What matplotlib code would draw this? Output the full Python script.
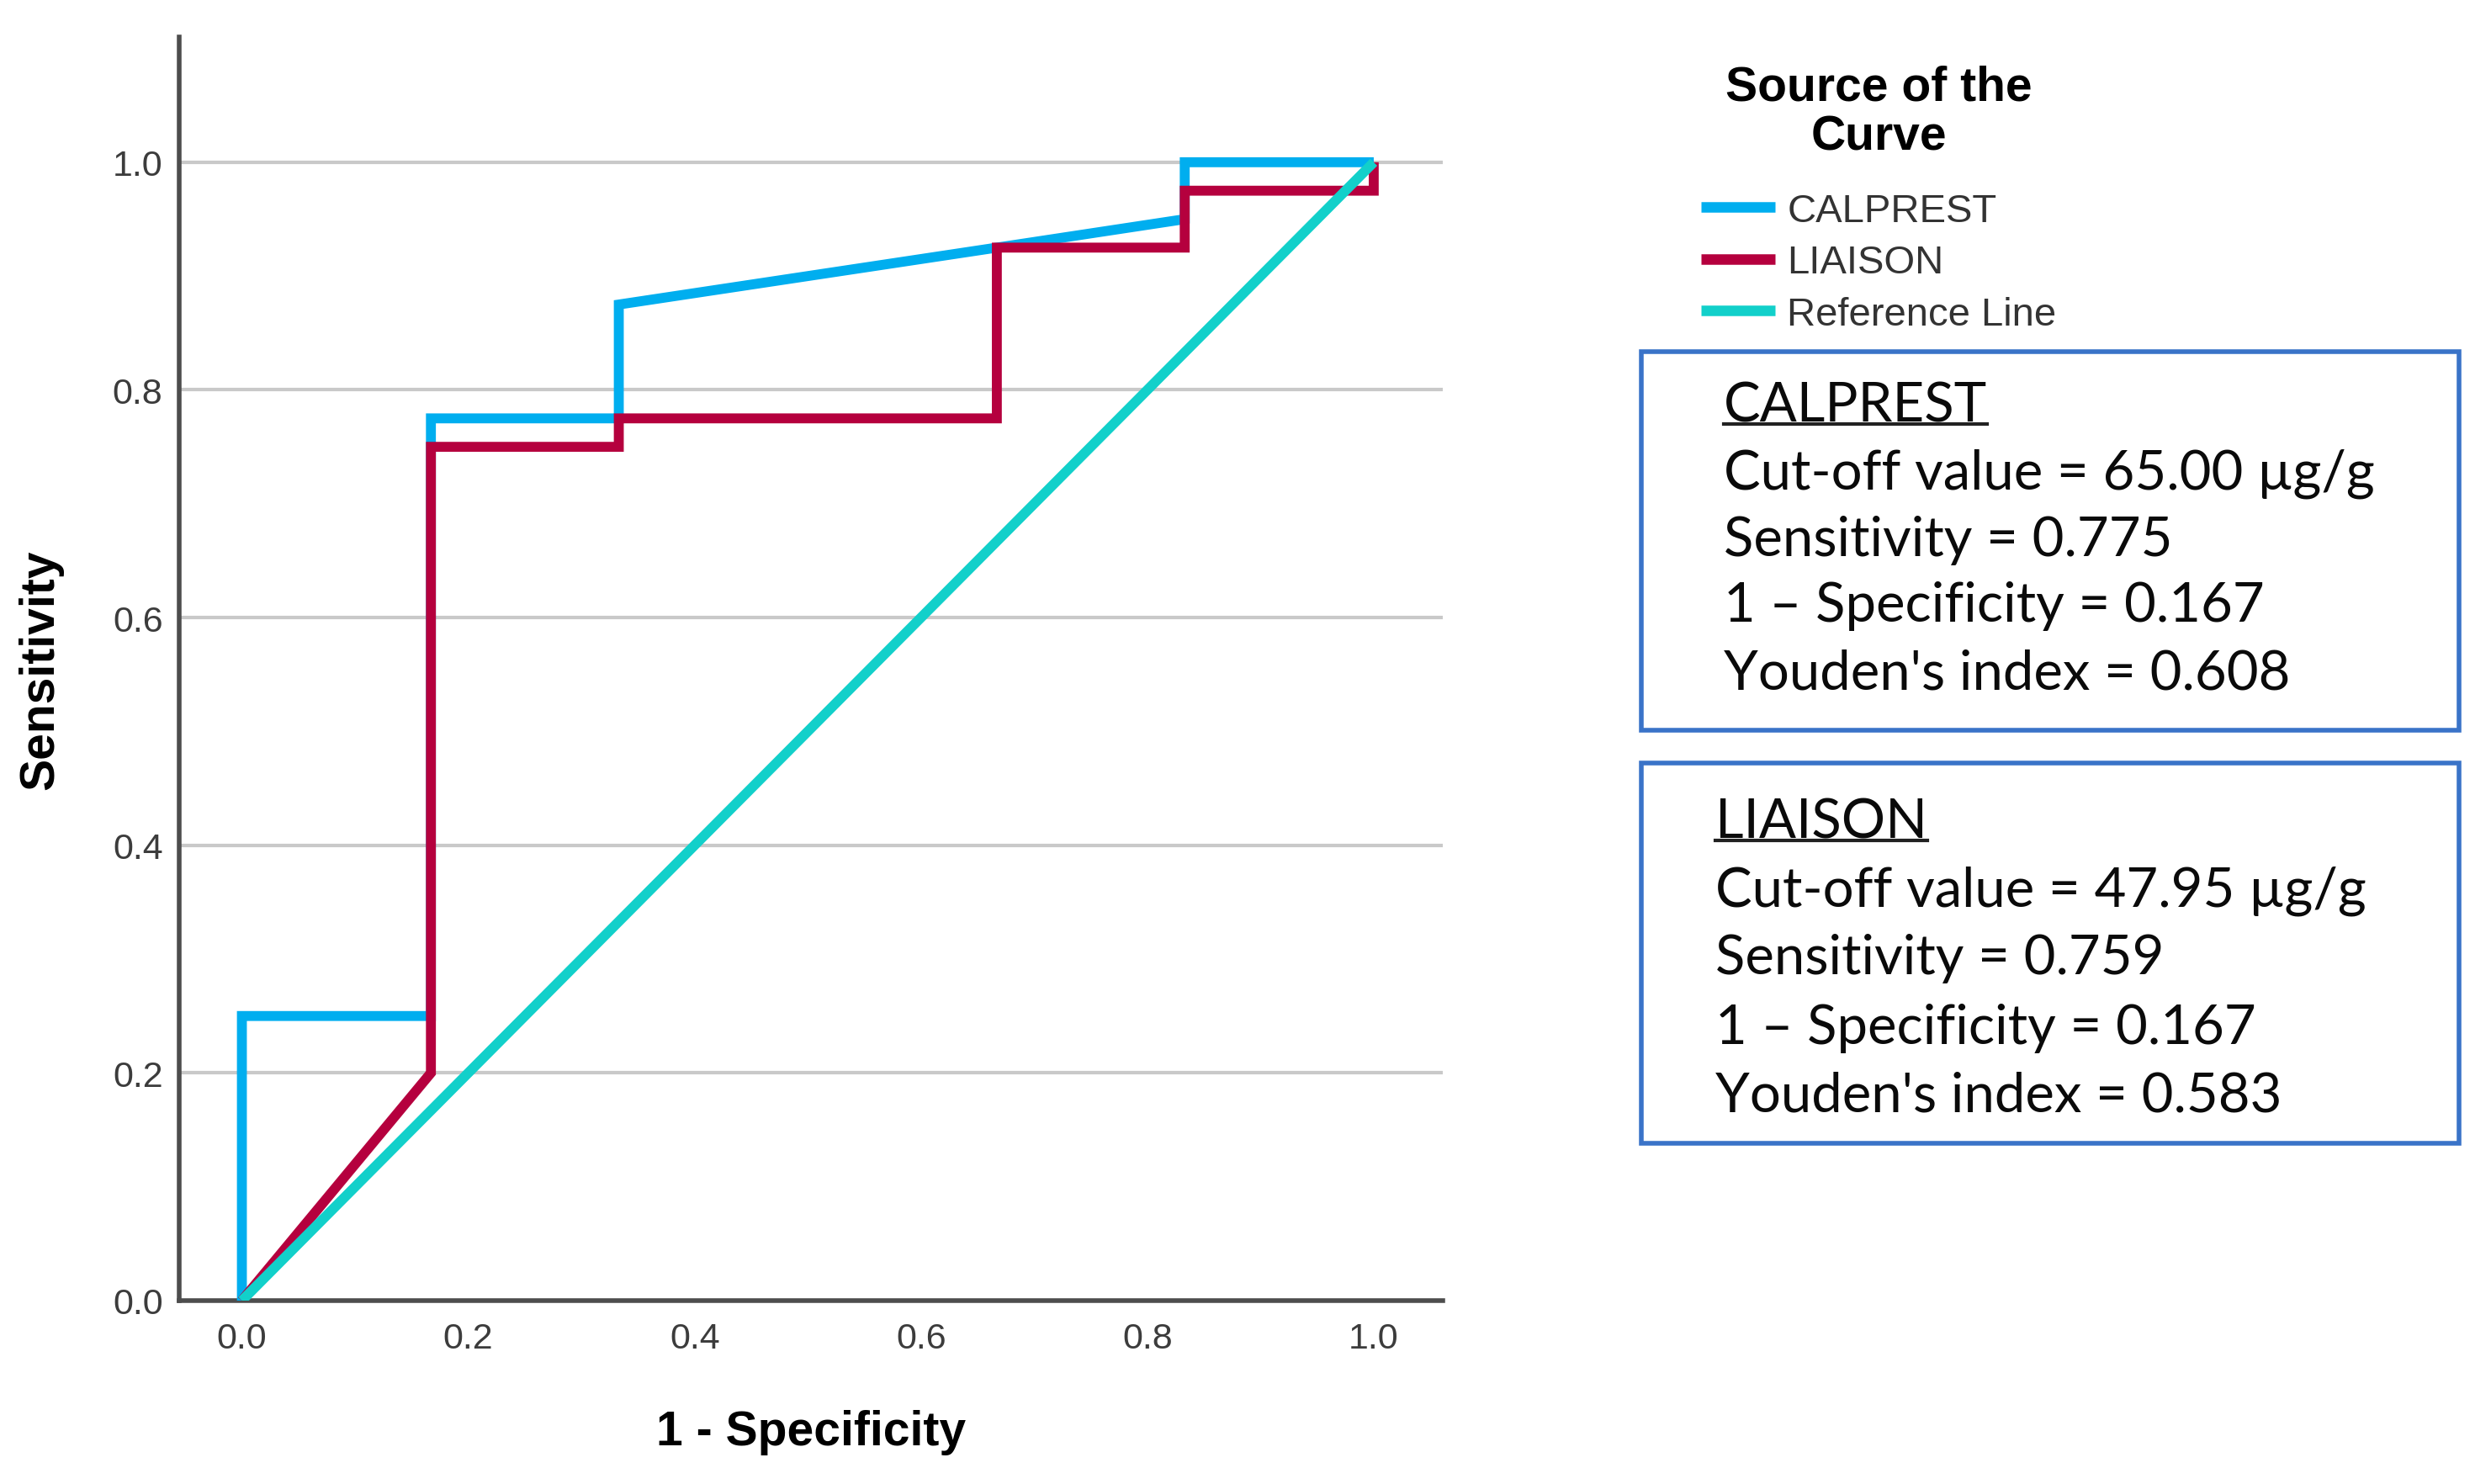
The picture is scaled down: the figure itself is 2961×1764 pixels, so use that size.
import matplotlib
matplotlib.use("Agg")
import matplotlib.pyplot as plt
from matplotlib.lines import Line2D
from matplotlib.patches import Rectangle

# ---------------- data ----------------
fpr_calprest = [0.0, 0.0, 0.167, 0.167, 0.333, 0.333, 0.667, 0.833, 0.833, 1.0]
tpr_calprest = [0.0, 0.25, 0.25, 0.775, 0.775, 0.875, 0.925, 0.95, 1.0, 1.0]
fpr_liaison = [0.0, 0.167, 0.167, 0.333, 0.333, 0.667, 0.667, 0.833, 0.833, 1.0, 1.0]
tpr_liaison = [0.0, 0.2, 0.75, 0.75, 0.775, 0.775, 0.925, 0.925, 0.975, 0.975, 1.0]
ref_x = [0.0, 1.0]
ref_y = [0.0, 1.0]
series_labels = ["CALPREST", "LIAISON", "Reference Line"]
ticks = [0.0, 0.2, 0.4, 0.6, 0.8, 1.0]
tick_labels = ["0.0", "0.2", "0.4", "0.6", "0.8", "1.0"]
box1_lines = ["CALPREST", "Cut-off value = 65.00 µg/g", "Sensitivity = 0.775",
              "1 \u2013 Specificity = 0.167", "Youden's index = 0.608"]
box2_lines = ["LIAISON", "Cut-off value = 47.95 µg/g", "Sensitivity = 0.759",
              "1 \u2013 Specificity = 0.167", "Youden's index = 0.583"]

# ---------------- figure ----------------
W, H = 2961, 1765
DPI = 100
fig = plt.figure(figsize=(W / DPI, H / DPI), dpi=DPI)
fig.patch.set_facecolor("white")


def fx(px):
    return px / W


def fy(py):
    return 1 - py / H


ax_l, ax_r, ax_t, ax_b = 213, 1715, 45, 1547
ax = fig.add_axes([fx(ax_l), fy(ax_b), fx(ax_r) - fx(ax_l), fy(ax_t) - fy(ax_b)])

C_BLUE = "#00AEEF"
C_RED = "#B5003E"
C_CYAN = "#12D0CA"
LW = 8.5

l1, = ax.plot(fpr_calprest, tpr_calprest, color=C_BLUE, lw=LW,
              solid_joinstyle="miter", solid_capstyle="butt", zorder=3)
l2, = ax.plot(fpr_liaison, tpr_liaison, color=C_RED, lw=LW,
              solid_joinstyle="miter", solid_capstyle="butt", zorder=4)
l3, = ax.plot(ref_x, ref_y, color=C_CYAN, lw=LW,
              solid_capstyle="butt", zorder=5)

ax.set_xlim(-0.0554, 1.061)
ax.set_ylim(0.0, 1.110)
ax.set_xticks(ticks)
ax.set_xticklabels(tick_labels)
ax.set_yticks(ticks)
ax.set_yticklabels(tick_labels)

ax.yaxis.grid(True, color="#C9C9C9", lw=3.0, zorder=1)
ax.xaxis.grid(False)
ax.set_axisbelow(True)
for s in ["top", "right"]:
    ax.spines[s].set_visible(False)
for s in ["left", "bottom"]:
    ax.spines[s].set_color("#4d4d4d")
    ax.spines[s].set_linewidth(4.0)
    ax.spines[s].set_zorder(2)

ax.tick_params(axis="both", length=0, colors="#3c3c3c", labelsize=31)
ax.tick_params(axis="x", pad=18)
ax.tick_params(axis="y", pad=14)
for lab in ax.get_xticklabels() + ax.get_yticklabels():
    lab.set_fontfamily(["Liberation Sans", "DejaVu Sans"])

lab_font = dict(family=["Liberation Sans", "DejaVu Sans"], size=41, weight="bold")
ax.set_xlabel("1 - Specificity", fontdict=lab_font, labelpad=46)
ax.set_ylabel("Sensitivity", fontdict=lab_font, labelpad=42)

# ---------------- legend ----------------
leg = fig.legend(handles=[l1, l2, l3], labels=series_labels,
                 loc="upper left", bbox_to_anchor=(fx(2022), fy(78)),
                 frameon=False, borderpad=0, borderaxespad=0,
                 handlelength=1.87, handletextpad=0.3, labelspacing=0.37,
                 prop=dict(family=["Liberation Sans", "DejaVu Sans"], size=34),
                 title="Source of the\nCurve",
                 title_fontproperties=dict(family=["Liberation Sans", "DejaVu Sans"],
                                           size=41, weight="bold"))
leg.get_title().set_linespacing(1.1)
leg.get_title().set_multialignment("center")
try:
    leg._legend_box.sep = 34 * 0.37 + 16
except Exception:
    pass
for t in leg.get_texts():
    t.set_color("#333333")
for h in leg.legend_handles:
    h.set_linewidth(9)

# ---------------- info boxes ----------------
BOX_C = "#3A73C8"
box_font = ["Lato", "DejaVu Sans"]


def info_box(top, bottom, text_x, line_ys, lines):
    rect = Rectangle((fx(1951), fy(bottom)), fx(2923) - fx(1951), fy(top) - fy(bottom),
                     transform=fig.transFigure, fill=False, edgecolor=BOX_C,
                     linewidth=4.0, zorder=1)
    fig.add_artist(rect)
    texts = []
    for yy, s in zip(line_ys, lines):
        t = fig.text(fx(text_x), fy(yy), s, ha="left", va="center",
                     family=box_font, size=47, color="#0a0a0a")
        texts.append(t)
    return texts


t1 = info_box(419, 869, 2049, [483, 563, 642, 721, 801], box1_lines)
t2 = info_box(908, 1360, 2039, [978, 1059, 1140, 1222, 1303], box2_lines)

# underline headings
fig.canvas.draw()
rend = fig.canvas.get_renderer()
for t in (t1[0], t2[0]):
    bb = t.get_window_extent(rend)
    y = bb.y0 + 0.12 * bb.height
    fig.add_artist(Line2D([bb.x0 / W, bb.x1 / W], [y / H, y / H],
                          transform=fig.transFigure, color="#222222", lw=3.0))

fig.savefig("out.png", dpi=DPI, facecolor="white")
